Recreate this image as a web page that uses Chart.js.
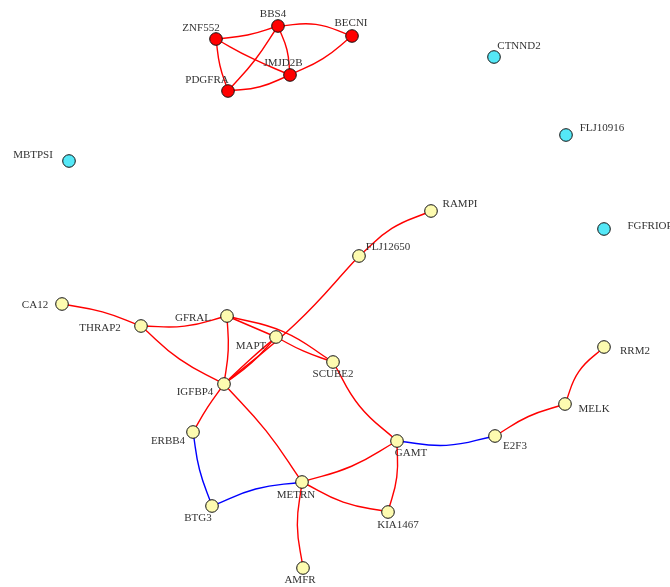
<!DOCTYPE html>
<html>
<head>
<meta charset="utf-8">
<script src="https://cdn.jsdelivr.net/npm/chart.js@4"></script>
<style>
  html, body { margin: 0; padding: 0; background: #fff; }
  canvas { display: block; }
</style>
</head>
<body>
<canvas id="net" width="670" height="587"></canvas>
<script>
// Graph data
const nodeNames = ['ZNF552', 'BBS4', 'BECNI', 'JMJD2B', 'PDGFRA',
    'MBTPSI', 'CTNND2', 'FLJ10916', 'FGFRIOP',
    'CA12', 'THRAP2', 'GFRAL', 'MAPT', 'SCUBE2', 'IGFBP4', 'FLJ12650', 'RAMPI',
    'ERBB4', 'BTG3', 'METRN', 'GAMT', 'KIA1467', 'AMFR', 'E2F3', 'MELK', 'RRM2'];
const nodeX = [216, 278, 352, 290, 228,
    69, 494, 566, 604,
    62, 141, 227, 276, 333, 224, 359, 431,
    193, 212, 302, 397, 388, 303, 495, 565, 604];
const nodeY = [39, 26, 36, 75, 91,
    161, 57, 135, 229,
    304, 326, 316, 337, 362, 384, 256, 211,
    432, 506, 482, 441, 512, 568, 436, 404, 347];
const nodeGroup = ['red', 'red', 'red', 'red', 'red',
    'cyan', 'cyan', 'cyan', 'cyan',
    'yellow', 'yellow', 'yellow', 'yellow', 'yellow', 'yellow', 'yellow', 'yellow',
    'yellow', 'yellow', 'yellow', 'yellow', 'yellow', 'yellow', 'yellow', 'yellow', 'yellow'];

const edgeFrom = ['ZNF552', 'BBS4', 'ZNF552', 'ZNF552', 'BBS4', 'BBS4', 'PDGFRA', 'BECNI',
    'CA12', 'THRAP2', 'THRAP2', 'GFRAL', 'GFRAL', 'GFRAL', 'MAPT', 'IGFBP4', 'IGFBP4',
    'IGFBP4', 'FLJ12650', 'IGFBP4', 'IGFBP4', 'SCUBE2', 'GAMT', 'E2F3', 'MELK',
    'GAMT', 'GAMT', 'METRN', 'METRN', 'ERBB4', 'BTG3'];
const edgeTo = ['BBS4', 'BECNI', 'PDGFRA', 'JMJD2B', 'PDGFRA', 'JMJD2B', 'JMJD2B', 'JMJD2B',
    'THRAP2', 'GFRAL', 'IGFBP4', 'IGFBP4', 'MAPT', 'SCUBE2', 'SCUBE2', 'MAPT', 'MAPT',
    'FLJ12650', 'RAMPI', 'ERBB4', 'METRN', 'GAMT', 'E2F3', 'MELK', 'RRM2',
    'METRN', 'KIA1467', 'KIA1467', 'AMFR', 'BTG3', 'METRN'];
const edgeType = ['red', 'red', 'red', 'red', 'red', 'red', 'red', 'red',
    'red', 'red', 'red', 'red', 'red', 'red', 'red', 'red', 'red',
    'red', 'red', 'red', 'red', 'red', 'blue', 'red', 'red',
    'red', 'red', 'red', 'red', 'blue', 'blue'];

// Styles
const edgeBend = [0.04, -0.09, 0.04, 0.02, -0.03, -0.06, 0.06, -0.05,
    -0.04, 0.06, 0.05, -0.04, 0.0, -0.07, 0.03, 0.04, -0.01,
    0.03, -0.07, 0.02, -0.03, 0.07, 0.07, -0.05, -0.1,
    -0.05, -0.06, 0.06, 0.06, 0.04, -0.055];
const labelDx = [-15, -5, -1, -7, -21,
    -36, 25, 36, 46,
    -27, -41, -34, -25, 0, -29, 29, 29,
    -25, -14, -6, 14, 10, -3, 20, 29, 31];
const labelDy = [-11, -12, -13, -12, -11,
    -6, -11, -7, -3,
    1, 2, 2, 9, 12, 8, -9, -7,
    9, 12, 13, 12, 13, 12, 10, 5, 4];

const groupColors = { red: '#ff0000', cyan: '#55e8f7', yellow: '#fdfbb0' };
const edgeColors = { red: '#ff0000', blue: '#0000ff' };

// Build edge datasets: start, bent midpoint, end (spline through them)
const edgeDatasets = edgeFrom.map((from, i) => {
    const a = nodeNames.indexOf(from);
    const b = nodeNames.indexOf(edgeTo[i]);
    const dx = nodeX[b] - nodeX[a];
    const dy = nodeY[b] - nodeY[a];
    const mx = (nodeX[a] + nodeX[b]) / 2 - dy * edgeBend[i];
    const my = (nodeY[a] + nodeY[b]) / 2 + dx * edgeBend[i];
    return {
        type: 'line',
        data: [{ x: nodeX[a], y: nodeY[a] }, { x: mx, y: my }, { x: nodeX[b], y: nodeY[b] }],
        borderColor: edgeColors[edgeType[i]],
        borderWidth: 1.4,
        tension: 0.45,
        pointRadius: 0,
        fill: false,
        order: 2
    };
});

const nodeDataset = {
    type: 'scatter',
    data: nodeNames.map((n, i) => ({ x: nodeX[i], y: nodeY[i] })),
    backgroundColor: nodeGroup.map(g => groupColors[g]),
    borderColor: '#111',
    borderWidth: 1,
    pointRadius: 6.3,
    order: 1
};

// Node labels
const nodeLabels = {
    id: 'nodeLabels',
    afterDatasetsDraw(chart) {
        const ctx = chart.ctx;
        const xs = chart.scales.x, ys = chart.scales.y;
        ctx.save();
        ctx.font = '11px "Liberation Serif", "DejaVu Serif", serif';
        ctx.fillStyle = '#333';
        ctx.textAlign = 'center';
        ctx.textBaseline = 'middle';
        nodeNames.forEach((name, i) => {
            ctx.fillText(name, xs.getPixelForValue(nodeX[i]) + labelDx[i], ys.getPixelForValue(nodeY[i]) + labelDy[i]);
        });
        ctx.restore();
    }
};

new Chart(document.getElementById('net'), {
    type: 'scatter',
    data: { datasets: [nodeDataset, ...edgeDatasets] },
    options: {
        responsive: false,
        animation: false,
        layout: { padding: 0, autoPadding: false },
        plugins: { legend: { display: false }, tooltip: { enabled: false } },
        scales: {
            x: { display: false, min: 0, max: 670 },
            y: { display: false, min: 0, max: 587, reverse: true }
        }
    },
    plugins: [nodeLabels]
});
</script>
</body>
</html>
